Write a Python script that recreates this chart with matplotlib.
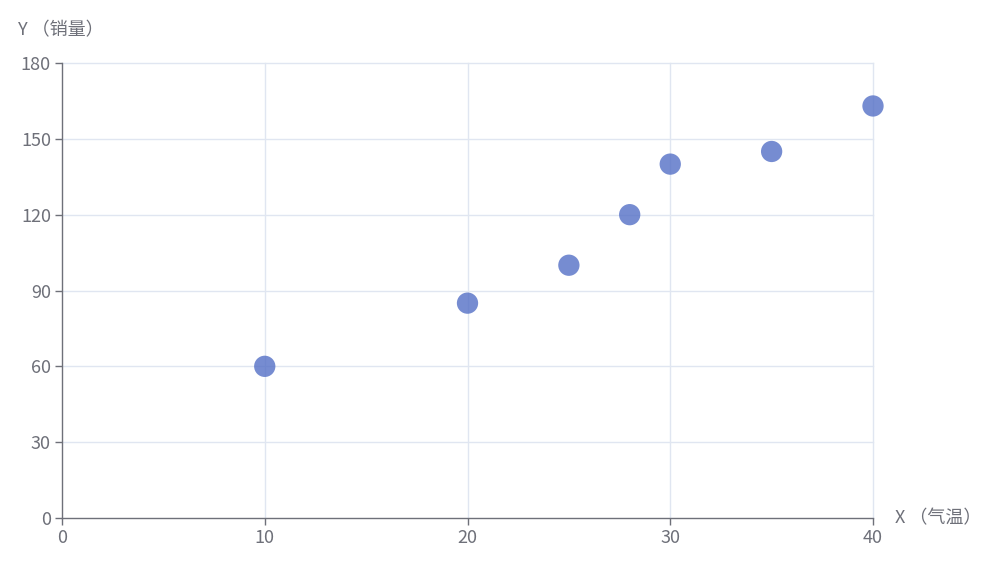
import matplotlib
matplotlib.use("Agg")
import matplotlib.pyplot as plt

plt.rcParams['font.family'] = ['Noto Sans CJK SC', 'DejaVu Sans']

temps = [10, 20, 25, 28, 30, 35, 40]
sales = [60, 85, 100, 120, 140, 145, 163]
x_ticks = [0, 10, 20, 30, 40]
y_ticks = [0, 30, 60, 90, 120, 150, 180]

W, H = 982, 567
fig = plt.figure(figsize=(W/100, H/100), dpi=100)
ax = fig.add_axes([62/W, (H-518)/H, (873-62)/W, (518-63)/H])

axis_c = '#6E7079'
grid_c = '#E0E6F1'

ax.set_xlim(0, 40)
ax.set_ylim(0, 180)
ax.set_xticks(x_ticks)
ax.set_yticks(y_ticks)

for v in y_ticks[1:]:
    ax.axhline(v, color=grid_c, lw=1, zorder=0, clip_on=False)
for v in x_ticks[1:]:
    ax.axvline(v, color=grid_c, lw=1, zorder=0, clip_on=False)

ax.scatter(temps, sales, s=235, color='#5470c6', alpha=0.8, edgecolors='none', zorder=3, clip_on=False)

for s in ['top', 'right']:
    ax.spines[s].set_visible(False)
for s in ['left', 'bottom']:
    ax.spines[s].set_color(axis_c)
    ax.spines[s].set_linewidth(1)

ax.tick_params(axis='both', colors=axis_c, labelcolor=axis_c, length=5, width=1, labelsize=13)
ax.tick_params(axis='x', pad=3)
ax.tick_params(axis='y', pad=3)

fig.text(18/W, 1 - 30/H, 'Y （销量）', color=axis_c, fontsize=13, va='center', ha='left')
fig.text(895/W, 1 - 518/H, 'X （气温）', color=axis_c, fontsize=13, va='center', ha='left')

fig.savefig('out.png', dpi=100)
